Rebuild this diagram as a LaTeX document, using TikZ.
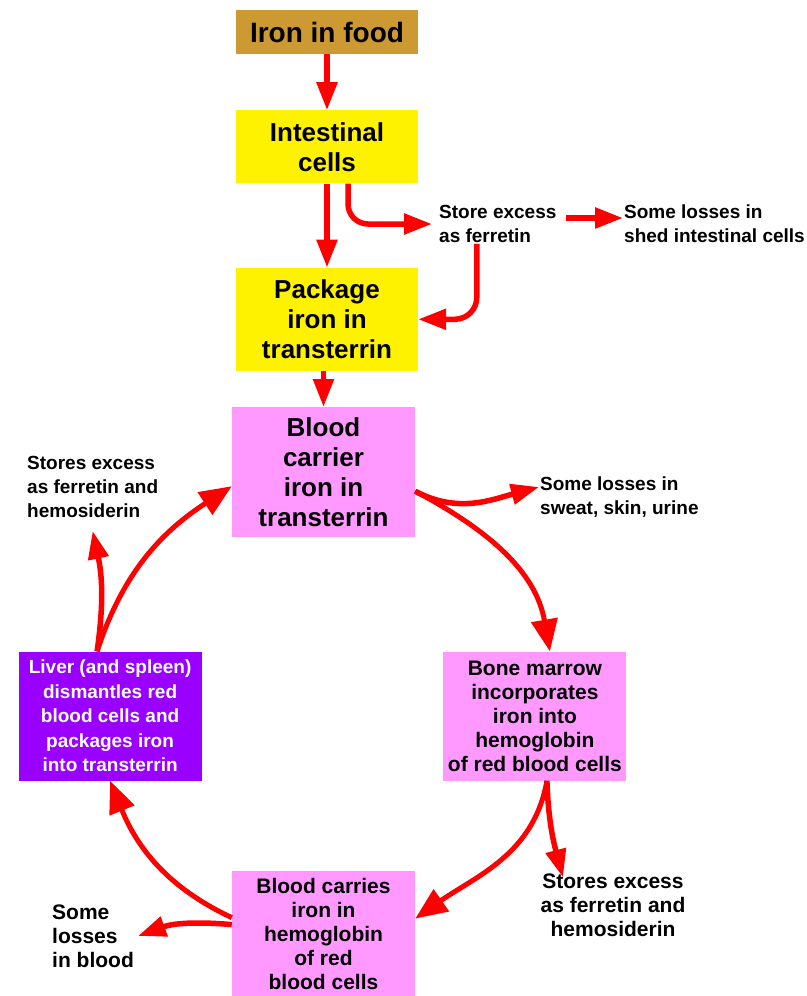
\documentclass[tikz,border=0pt]{standalone}
\usepackage{fontspec}
\setmainfont{Liberation Sans}
\usetikzlibrary{arrows.meta,positioning}
\definecolor{foodbrown}{RGB}{204,153,51}
\definecolor{boxpink}{RGB}{255,153,255}
\definecolor{liverpurple}{RGB}{153,0,255}

\begin{document}
\begin{tikzpicture}[
        x=1pt, y=-1pt,
        box/.style={rectangle, fill=yellow, minimum width=182pt, inner sep=0pt, align=center, font=\bfseries\fontsize{26}{30}\selectfont},
        cyclebox/.style={rectangle, fill=boxpink, minimum width=183pt, minimum height=129pt, inner sep=0pt, align=center, font=\bfseries\fontsize{21}{24}\selectfont},
        note/.style={inner sep=1pt, align=left, font=\bfseries\fontsize{19}{24}\selectfont},
        arrow/.style={-{Triangle[length=28pt,width=20pt]}, line width=5.5pt, draw=red},
        bigarrow/.style={-{Triangle[length=32pt,width=26pt]}, line width=5pt, draw=red}
    ]
    \useasboundingbox (0,0) rectangle (806,996);

    \node[box, fill=foodbrown, minimum height=44pt, font=\bfseries\fontsize{28}{30}\selectfont] (food) at (327,32) {Iron in food};
    \node[box, minimum height=73pt] (intestinal) [below=56pt of food] {Intestinal\\cells};
    \node[box, minimum height=103pt] (package) [below=84pt of intestinal] {Package\\iron in\\transterrin};
    \node[cyclebox, minimum height=130pt, font=\bfseries\fontsize{26}{30}\selectfont] (carrier) [below=36pt of package, xshift=-3.5pt] {Blood\\carrier\\iron in\\transterrin};
    \node[cyclebox] (marrow) [below right=114pt and 28pt of carrier] {Bone marrow\\incorporates\\iron into\\hemoglobin\\of red blood cells};
    \node[cyclebox, fill=liverpurple, text=white, font=\bfseries\fontsize{19}{24.5}\selectfont] (liver) [below left=114pt and 30pt of carrier] {Liver (and spleen)\\dismantles red\\blood cells and\\packages iron\\into transterrin};
    \node[cyclebox, minimum height=126pt] (bloodc) [below=333pt of carrier] {Blood carries\\iron in\\hemoglobin\\of red\\blood cells};

    \node[note, anchor=west] (store) at (438,224) {Store excess\\as ferretin};
    \node[note, anchor=west] (shed) at (623,224) {Some losses in\\shed intestinal cells};
    \node[note, anchor=west] (sweat) at (539,497) {Some losses in\\sweat, skin, urine};
    \node[note, anchor=west] (storesL) at (26,487) {Stores excess\\as ferretin and\\hemosiderin};
    \node[note, align=center, font=\bfseries\fontsize{21}{24}\selectfont] (storesR) at (613,905) {Stores excess\\as ferretin and\\hemosiderin};
    \node[note, anchor=west, font=\bfseries\fontsize{21}{24}\selectfont] (bloodloss) at (51,936) {Some\\losses\\in blood};

    \draw[arrow] (food) -- (intestinal);
    \draw[arrow] (intestinal) -- (package);
    \draw[arrow] (carrier.north |- package.south) -- (carrier);
    \draw[arrow, rounded corners=20pt] ([xshift=21pt]intestinal.south) |- ([xshift=-6pt]store.west);
    \draw[arrow] ([xshift=8pt,yshift=6pt]store.east) -- ([yshift=6pt]shed.west);
    \draw[arrow, rounded corners=22pt] ([xshift=-21pt]store.south) |- (package.east);

    \draw[bigarrow] ([yshift=-19pt]carrier.east) to[out=-28,in=100] ([xshift=15pt]marrow.north);
    \draw[arrow] ([yshift=-19pt]carrier.east) to[out=-28,in=195] ([yshift=10pt]sweat.west);
    \draw[bigarrow] ([xshift=12pt]marrow.south) to[out=-100,in=35] ([yshift=15pt]bloodc.east);
    \draw[arrow] ([xshift=12pt]marrow.south) to[out=-88,in=105] ([xshift=-50pt,yshift=-5pt]storesR.north);
    \draw[bigarrow] ([yshift=16pt]bloodc.west) to[out=155,in=-68] (liver.south);
    \draw[arrow] ([yshift=9pt]bloodc.west) to[out=175,in=20] ([xshift=3pt]bloodloss.east);
    \draw[bigarrow] ([xshift=-13pt]liver.north) to[out=72,in=213] ([yshift=-14pt]carrier.west);
    \draw[arrow] ([xshift=-13pt]liver.north) to[out=82,in=-78] ([yshift=-12pt]storesL.south);

\end{tikzpicture}
\end{document}
